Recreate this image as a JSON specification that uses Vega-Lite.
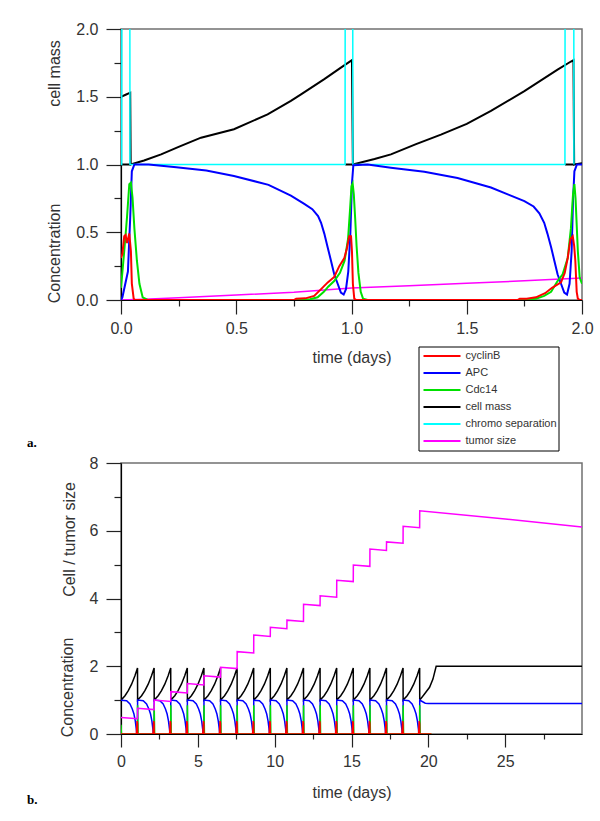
{
  "$schema": "https://vega.github.io/schema/vega-lite/v6.json",
  "background": "white",
  "padding": {"left": 26, "top": 20, "right": 5, "bottom": 5},
  "spacing": 3,
  "resolve": {"scale": {"color": "shared"}, "legend": {"color": "shared"}},
  "config": {
    "view": {"stroke": "#707070", "strokeWidth": 1.5},
    "axis": {"labelFont": "Liberation Sans", "labelFontSize": 16, "labelColor": "#333", "titleFont": "Liberation Sans", "titleFontSize": 16, "titleFontWeight": "normal", "titleColor": "#333", "domainColor": "black", "domainWidth": 1.2, "tickColor": "#222", "tickWidth": 1.2, "grid": false, "labelOverlap": false, "labelFlush": false},
    "legend": {"orient": "none", "legendX": 297.5, "legendY": 317.5, "direction": "vertical", "symbolType": "stroke", "symbolSize": 1369, "symbolStrokeWidth": 2, "clipHeight": 16.8, "rowPadding": 0, "padding": 1, "symbolOffset": 3, "labelOffset": 4, "labelFont": "Liberation Sans", "labelFontSize": 11, "labelColor": "#333", "labelLimit": 200, "strokeColor": "black", "fillColor": "white"},
    "title": {"font": "Liberation Serif", "fontSize": 13, "fontWeight": "bold", "color": "black"}
  },
  "datasets": {
    "a_tumor": [{"t":0,"v":0},{"t":0.1,"v":0.005},{"t":0.25,"v":0.017},{"t":0.5,"v":0.037},{"t":0.75,"v":0.057},{"t":1,"v":0.088},{"t":1.25,"v":0.105},{"t":1.5,"v":0.123},{"t":1.75,"v":0.142},{"t":2,"v":0.162}],
    "a_chromo": [{"t":0,"v":1},{"t":0.003,"v":1},{"t":0.004,"v":3},{"t":0.038,"v":3},{"t":0.039,"v":1},{"t":0.972,"v":1},{"t":0.973,"v":3},{"t":1.005,"v":3},{"t":1.006,"v":1},{"t":1.926,"v":1},{"t":1.927,"v":3},{"t":1.964,"v":3},{"t":1.965,"v":1}],
    "a_mass": [{"t":0,"v":1.5},{"t":0.02,"v":1.515},{"t":0.04,"v":1.53},{"t":0.042,"v":1.0},{"t":0.1,"v":1.03},{"t":0.174,"v":1.075},{"t":0.25,"v":1.13},{"t":0.347,"v":1.198},{"t":0.49,"v":1.26},{"t":0.636,"v":1.37},{"t":0.737,"v":1.469},{"t":0.781,"v":1.518},{"t":0.882,"v":1.63},{"t":0.954,"v":1.715},{"t":1.002,"v":1.77},{"t":1.006,"v":1.0},{"t":1.1,"v":1.04},{"t":1.171,"v":1.075},{"t":1.28,"v":1.15},{"t":1.388,"v":1.22},{"t":1.5,"v":1.3},{"t":1.605,"v":1.395},{"t":1.75,"v":1.542},{"t":1.894,"v":1.7},{"t":1.952,"v":1.76},{"t":1.963,"v":1.77},{"t":1.966,"v":1.0},{"t":2,"v":1.01},
      {"t":0,"v":1,"g":1},{"t":0.042,"v":1,"g":1},{"t":0.973,"v":1,"g":2},{"t":1.006,"v":1,"g":2},{"t":1.926,"v":1,"g":3},{"t":1.966,"v":1,"g":3}],
    "a_APC": [{"t":0,"v":0},{"t":0.006,"v":0.02},{"t":0.03,"v":0.21},{"t":0.04,"v":0.61},{"t":0.047,"v":0.95},{"t":0.058,"v":1.0},{"t":0.12,"v":1.0},{"t":0.24,"v":0.98},{"t":0.37,"v":0.955},{"t":0.49,"v":0.915},{"t":0.64,"v":0.85},{"t":0.737,"v":0.77},{"t":0.795,"v":0.71},{"t":0.83,"v":0.67},{"t":0.855,"v":0.62},{"t":0.868,"v":0.57},{"t":0.882,"v":0.49},{"t":0.897,"v":0.386},{"t":0.911,"v":0.29},{"t":0.925,"v":0.19},{"t":0.94,"v":0.12},{"t":0.954,"v":0.054},{"t":0.966,"v":0.04},{"t":0.976,"v":0.08},{"t":0.986,"v":0.21},{"t":0.995,"v":0.49},{"t":1.002,"v":0.86},{"t":1.008,"v":0.995},{"t":1.07,"v":1.0},{"t":1.171,"v":0.976},{"t":1.316,"v":0.947},{"t":1.46,"v":0.9},{"t":1.605,"v":0.83},{"t":1.678,"v":0.78},{"t":1.75,"v":0.73},{"t":1.79,"v":0.69},{"t":1.815,"v":0.64},{"t":1.836,"v":0.57},{"t":1.85,"v":0.49},{"t":1.866,"v":0.39},{"t":1.88,"v":0.29},{"t":1.894,"v":0.19},{"t":1.909,"v":0.12},{"t":1.923,"v":0.054},{"t":1.935,"v":0.04},{"t":1.946,"v":0.12},{"t":1.955,"v":0.36},{"t":1.961,"v":0.73},{"t":1.967,"v":0.95},{"t":1.978,"v":1.0},{"t":2,"v":1.0}],
    "a_Cdc14": [{"t":0,"v":0.09},{"t":0.014,"v":0.36},{"t":0.026,"v":0.61},{"t":0.036,"v":0.854},{"t":0.043,"v":0.866},{"t":0.05,"v":0.755},{"t":0.058,"v":0.53},{"t":0.069,"v":0.29},{"t":0.08,"v":0.12},{"t":0.094,"v":0.02},{"t":0.116,"v":0},{"t":0.78,"v":0},{"t":0.82,"v":0.005},{"t":0.853,"v":0.02},{"t":0.88,"v":0.06},{"t":0.9,"v":0.1},{"t":0.925,"v":0.14},{"t":0.95,"v":0.2},{"t":0.97,"v":0.29},{"t":0.985,"v":0.45},{"t":0.993,"v":0.65},{"t":1.0,"v":0.84},{"t":1.005,"v":0.86},{"t":1.01,"v":0.78},{"t":1.016,"v":0.6},{"t":1.022,"v":0.4},{"t":1.03,"v":0.2},{"t":1.04,"v":0.06},{"t":1.05,"v":0.01},{"t":1.07,"v":0},{"t":1.75,"v":0},{"t":1.8,"v":0.01},{"t":1.836,"v":0.03},{"t":1.866,"v":0.06},{"t":1.894,"v":0.14},{"t":1.916,"v":0.19},{"t":1.938,"v":0.31},{"t":1.952,"v":0.53},{"t":1.961,"v":0.78},{"t":1.967,"v":0.855},{"t":1.972,"v":0.75},{"t":1.982,"v":0.36},{"t":1.99,"v":0.165},{"t":2,"v":0.12}],
    "a_cyclinB": [{"t":0,"v":0.31},{"t":0.006,"v":0.34},{"t":0.014,"v":0.47},{"t":0.02,"v":0.48},{"t":0.026,"v":0.42},{"t":0.036,"v":0.49},{"t":0.043,"v":0.36},{"t":0.047,"v":0.12},{"t":0.055,"v":0.01},{"t":0.06,"v":0},{"t":0.75,"v":0},{"t":0.76,"v":0.01},{"t":0.8,"v":0.012},{"t":0.838,"v":0.03},{"t":0.868,"v":0.08},{"t":0.897,"v":0.13},{"t":0.925,"v":0.17},{"t":0.947,"v":0.25},{"t":0.969,"v":0.31},{"t":0.98,"v":0.38},{"t":0.99,"v":0.47},{"t":0.998,"v":0.47},{"t":1.002,"v":0.36},{"t":1.006,"v":0.12},{"t":1.012,"v":0.01},{"t":1.02,"v":0},{"t":1.72,"v":0},{"t":1.73,"v":0.01},{"t":1.76,"v":0.01},{"t":1.8,"v":0.02},{"t":1.84,"v":0.05},{"t":1.87,"v":0.09},{"t":1.909,"v":0.13},{"t":1.925,"v":0.2},{"t":1.938,"v":0.31},{"t":1.95,"v":0.45},{"t":1.96,"v":0.47},{"t":1.966,"v":0.4},{"t":1.971,"v":0.29},{"t":1.977,"v":0.06},{"t":1.982,"v":0.01},{"t":1.99,"v":0},{"t":2,"v":0}],
    "b_mass": [
      {"t":0,"v":1},{"t":0.26,"v":1.13},{"t":0.475,"v":1.28},{"t":0.69,"v":1.47},{"t":0.907,"v":1.72},{"t":1.075,"v":1.95},
      {"t":1.08,"v":1},{"t":1.34,"v":1.13},{"t":1.555,"v":1.28},{"t":1.77,"v":1.47},{"t":1.987,"v":1.72},{"t":2.155,"v":1.95},
      {"t":2.16,"v":1},{"t":2.42,"v":1.13},{"t":2.635,"v":1.28},{"t":2.85,"v":1.47},{"t":3.067,"v":1.72},{"t":3.235,"v":1.95},
      {"t":3.24,"v":1},{"t":3.5,"v":1.13},{"t":3.715,"v":1.28},{"t":3.93,"v":1.47},{"t":4.147,"v":1.72},{"t":4.315,"v":1.95},
      {"t":4.32,"v":1},{"t":4.58,"v":1.13},{"t":4.795,"v":1.28},{"t":5.01,"v":1.47},{"t":5.227,"v":1.72},{"t":5.395,"v":1.95},
      {"t":5.4,"v":1},{"t":5.66,"v":1.13},{"t":5.875,"v":1.28},{"t":6.09,"v":1.47},{"t":6.307,"v":1.72},{"t":6.475,"v":1.95},
      {"t":6.48,"v":1},{"t":6.74,"v":1.13},{"t":6.955,"v":1.28},{"t":7.17,"v":1.47},{"t":7.387,"v":1.72},{"t":7.555,"v":1.95},
      {"t":7.56,"v":1},{"t":7.82,"v":1.13},{"t":8.035,"v":1.28},{"t":8.25,"v":1.47},{"t":8.467,"v":1.72},{"t":8.635,"v":1.95},
      {"t":8.64,"v":1},{"t":8.9,"v":1.13},{"t":9.115,"v":1.28},{"t":9.33,"v":1.47},{"t":9.547,"v":1.72},{"t":9.715,"v":1.95},
      {"t":9.72,"v":1},{"t":9.98,"v":1.13},{"t":10.195,"v":1.28},{"t":10.41,"v":1.47},{"t":10.627,"v":1.72},{"t":10.795,"v":1.95},
      {"t":10.8,"v":1},{"t":11.06,"v":1.13},{"t":11.275,"v":1.28},{"t":11.49,"v":1.47},{"t":11.707,"v":1.72},{"t":11.875,"v":1.95},
      {"t":11.88,"v":1},{"t":12.14,"v":1.13},{"t":12.355,"v":1.28},{"t":12.57,"v":1.47},{"t":12.787,"v":1.72},{"t":12.955,"v":1.95},
      {"t":12.96,"v":1},{"t":13.22,"v":1.13},{"t":13.435,"v":1.28},{"t":13.65,"v":1.47},{"t":13.867,"v":1.72},{"t":14.035,"v":1.95},
      {"t":14.04,"v":1},{"t":14.3,"v":1.13},{"t":14.515,"v":1.28},{"t":14.73,"v":1.47},{"t":14.947,"v":1.72},{"t":15.115,"v":1.95},
      {"t":15.12,"v":1},{"t":15.38,"v":1.13},{"t":15.595,"v":1.28},{"t":15.81,"v":1.47},{"t":16.027,"v":1.72},{"t":16.195,"v":1.95},
      {"t":16.2,"v":1},{"t":16.46,"v":1.13},{"t":16.675,"v":1.28},{"t":16.89,"v":1.47},{"t":17.107,"v":1.72},{"t":17.275,"v":1.95},
      {"t":17.28,"v":1},{"t":17.54,"v":1.13},{"t":17.755,"v":1.28},{"t":17.97,"v":1.47},{"t":18.187,"v":1.72},{"t":18.355,"v":1.95},
      {"t":18.36,"v":1},{"t":18.62,"v":1.13},{"t":18.835,"v":1.28},{"t":19.05,"v":1.47},{"t":19.267,"v":1.72},{"t":19.435,"v":1.95},
      {"t":19.44,"v":1},{"t":19.75,"v":1.18},{"t":20.08,"v":1.38},{"t":20.3,"v":1.62},{"t":20.51,"v":2},{"t":30,"v":2}],
    "b_APC": [
      {"t":0,"v":1},{"t":0.367,"v":0.98},{"t":0.583,"v":0.885},{"t":0.734,"v":0.74},{"t":0.842,"v":0.59},{"t":0.929,"v":0.39},{"t":0.994,"v":0.15},{"t":1.026,"v":0.02},{"t":1.075,"v":0},
      {"t":1.08,"v":1},{"t":1.447,"v":0.98},{"t":1.663,"v":0.885},{"t":1.814,"v":0.74},{"t":1.922,"v":0.59},{"t":2.009,"v":0.39},{"t":2.074,"v":0.15},{"t":2.106,"v":0.02},{"t":2.155,"v":0},
      {"t":2.16,"v":1},{"t":2.527,"v":0.98},{"t":2.743,"v":0.885},{"t":2.894,"v":0.74},{"t":3.002,"v":0.59},{"t":3.089,"v":0.39},{"t":3.154,"v":0.15},{"t":3.186,"v":0.02},{"t":3.235,"v":0},
      {"t":3.24,"v":1},{"t":3.607,"v":0.98},{"t":3.823,"v":0.885},{"t":3.974,"v":0.74},{"t":4.082,"v":0.59},{"t":4.169,"v":0.39},{"t":4.234,"v":0.15},{"t":4.266,"v":0.02},{"t":4.315,"v":0},
      {"t":4.32,"v":1},{"t":4.687,"v":0.98},{"t":4.903,"v":0.885},{"t":5.054,"v":0.74},{"t":5.162,"v":0.59},{"t":5.249,"v":0.39},{"t":5.314,"v":0.15},{"t":5.346,"v":0.02},{"t":5.395,"v":0},
      {"t":5.4,"v":1},{"t":5.767,"v":0.98},{"t":5.983,"v":0.885},{"t":6.134,"v":0.74},{"t":6.242,"v":0.59},{"t":6.329,"v":0.39},{"t":6.394,"v":0.15},{"t":6.426,"v":0.02},{"t":6.475,"v":0},
      {"t":6.48,"v":1},{"t":6.847,"v":0.98},{"t":7.063,"v":0.885},{"t":7.214,"v":0.74},{"t":7.322,"v":0.59},{"t":7.409,"v":0.39},{"t":7.474,"v":0.15},{"t":7.506,"v":0.02},{"t":7.555,"v":0},
      {"t":7.56,"v":1},{"t":7.927,"v":0.98},{"t":8.143,"v":0.885},{"t":8.294,"v":0.74},{"t":8.402,"v":0.59},{"t":8.489,"v":0.39},{"t":8.554,"v":0.15},{"t":8.586,"v":0.02},{"t":8.635,"v":0},
      {"t":8.64,"v":1},{"t":9.007,"v":0.98},{"t":9.223,"v":0.885},{"t":9.374,"v":0.74},{"t":9.482,"v":0.59},{"t":9.569,"v":0.39},{"t":9.634,"v":0.15},{"t":9.666,"v":0.02},{"t":9.715,"v":0},
      {"t":9.72,"v":1},{"t":10.087,"v":0.98},{"t":10.303,"v":0.885},{"t":10.454,"v":0.74},{"t":10.562,"v":0.59},{"t":10.649,"v":0.39},{"t":10.714,"v":0.15},{"t":10.746,"v":0.02},{"t":10.795,"v":0},
      {"t":10.8,"v":1},{"t":11.167,"v":0.98},{"t":11.383,"v":0.885},{"t":11.534,"v":0.74},{"t":11.642,"v":0.59},{"t":11.729,"v":0.39},{"t":11.794,"v":0.15},{"t":11.826,"v":0.02},{"t":11.875,"v":0},
      {"t":11.88,"v":1},{"t":12.247,"v":0.98},{"t":12.463,"v":0.885},{"t":12.614,"v":0.74},{"t":12.722,"v":0.59},{"t":12.809,"v":0.39},{"t":12.874,"v":0.15},{"t":12.906,"v":0.02},{"t":12.955,"v":0},
      {"t":12.96,"v":1},{"t":13.327,"v":0.98},{"t":13.543,"v":0.885},{"t":13.694,"v":0.74},{"t":13.802,"v":0.59},{"t":13.889,"v":0.39},{"t":13.954,"v":0.15},{"t":13.986,"v":0.02},{"t":14.035,"v":0},
      {"t":14.04,"v":1},{"t":14.407,"v":0.98},{"t":14.623,"v":0.885},{"t":14.774,"v":0.74},{"t":14.882,"v":0.59},{"t":14.969,"v":0.39},{"t":15.034,"v":0.15},{"t":15.066,"v":0.02},{"t":15.115,"v":0},
      {"t":15.12,"v":1},{"t":15.487,"v":0.98},{"t":15.703,"v":0.885},{"t":15.854,"v":0.74},{"t":15.962,"v":0.59},{"t":16.049,"v":0.39},{"t":16.114,"v":0.15},{"t":16.146,"v":0.02},{"t":16.195,"v":0},
      {"t":16.2,"v":1},{"t":16.567,"v":0.98},{"t":16.783,"v":0.885},{"t":16.934,"v":0.74},{"t":17.042,"v":0.59},{"t":17.129,"v":0.39},{"t":17.194,"v":0.15},{"t":17.226,"v":0.02},{"t":17.275,"v":0},
      {"t":17.28,"v":1},{"t":17.647,"v":0.98},{"t":17.863,"v":0.885},{"t":18.014,"v":0.74},{"t":18.122,"v":0.59},{"t":18.209,"v":0.39},{"t":18.274,"v":0.15},{"t":18.306,"v":0.02},{"t":18.355,"v":0},
      {"t":18.36,"v":1},{"t":18.727,"v":0.98},{"t":18.943,"v":0.885},{"t":19.094,"v":0.74},{"t":19.202,"v":0.59},{"t":19.289,"v":0.39},{"t":19.354,"v":0.15},{"t":19.386,"v":0.02},{"t":19.435,"v":0},
      {"t":19.44,"v":1},{"t":19.6,"v":0.96},{"t":19.8,"v":0.91},{"t":20,"v":0.9},{"t":30,"v":0.9}],
    "b_Cdc14": [{"t":0,"v":0.27},{"t":0.03,"v":0},
      {"t":1.07,"v":0},{"t":1.08,"v":0.85},{"t":1.11,"v":0},
      {"t":2.15,"v":0},{"t":2.16,"v":0.85},{"t":2.19,"v":0},
      {"t":3.23,"v":0},{"t":3.24,"v":0.85},{"t":3.27,"v":0},
      {"t":4.31,"v":0},{"t":4.32,"v":0.85},{"t":4.35,"v":0},
      {"t":5.39,"v":0},{"t":5.4,"v":0.85},{"t":5.43,"v":0},
      {"t":6.47,"v":0},{"t":6.48,"v":0.85},{"t":6.51,"v":0},
      {"t":7.55,"v":0},{"t":7.56,"v":0.85},{"t":7.59,"v":0},
      {"t":8.63,"v":0},{"t":8.64,"v":0.85},{"t":8.67,"v":0},
      {"t":9.71,"v":0},{"t":9.72,"v":0.85},{"t":9.75,"v":0},
      {"t":10.79,"v":0},{"t":10.8,"v":0.85},{"t":10.83,"v":0},
      {"t":11.87,"v":0},{"t":11.88,"v":0.85},{"t":11.91,"v":0},
      {"t":12.95,"v":0},{"t":12.96,"v":0.85},{"t":12.99,"v":0},
      {"t":14.03,"v":0},{"t":14.04,"v":0.85},{"t":14.07,"v":0},
      {"t":15.11,"v":0},{"t":15.12,"v":0.85},{"t":15.15,"v":0},
      {"t":16.19,"v":0},{"t":16.2,"v":0.85},{"t":16.23,"v":0},
      {"t":17.27,"v":0},{"t":17.28,"v":0.85},{"t":17.31,"v":0},
      {"t":18.35,"v":0},{"t":18.36,"v":0.85},{"t":18.39,"v":0},
      {"t":19.43,"v":0},{"t":19.44,"v":0.85},{"t":19.47,"v":0},{"t":20.2,"v":0}],
    "b_cyclinB": [{"t":0,"v":0},
      {"t":1.0,"v":0},{"t":1.05,"v":0.38},{"t":1.075,"v":0.3},{"t":1.08,"v":0},
      {"t":2.08,"v":0},{"t":2.13,"v":0.38},{"t":2.155,"v":0.3},{"t":2.16,"v":0},
      {"t":3.16,"v":0},{"t":3.21,"v":0.38},{"t":3.235,"v":0.3},{"t":3.24,"v":0},
      {"t":4.24,"v":0},{"t":4.29,"v":0.38},{"t":4.315,"v":0.3},{"t":4.32,"v":0},
      {"t":5.32,"v":0},{"t":5.37,"v":0.38},{"t":5.395,"v":0.3},{"t":5.4,"v":0},
      {"t":6.4,"v":0},{"t":6.45,"v":0.38},{"t":6.475,"v":0.3},{"t":6.48,"v":0},
      {"t":7.48,"v":0},{"t":7.53,"v":0.38},{"t":7.555,"v":0.3},{"t":7.56,"v":0},
      {"t":8.56,"v":0},{"t":8.61,"v":0.38},{"t":8.635,"v":0.3},{"t":8.64,"v":0},
      {"t":9.64,"v":0},{"t":9.69,"v":0.38},{"t":9.715,"v":0.3},{"t":9.72,"v":0},
      {"t":10.72,"v":0},{"t":10.77,"v":0.38},{"t":10.795,"v":0.3},{"t":10.8,"v":0},
      {"t":11.8,"v":0},{"t":11.85,"v":0.38},{"t":11.875,"v":0.3},{"t":11.88,"v":0},
      {"t":12.88,"v":0},{"t":12.93,"v":0.38},{"t":12.955,"v":0.3},{"t":12.96,"v":0},
      {"t":13.96,"v":0},{"t":14.01,"v":0.38},{"t":14.035,"v":0.3},{"t":14.04,"v":0},
      {"t":15.04,"v":0},{"t":15.09,"v":0.38},{"t":15.115,"v":0.3},{"t":15.12,"v":0},
      {"t":16.12,"v":0},{"t":16.17,"v":0.38},{"t":16.195,"v":0.3},{"t":16.2,"v":0},
      {"t":17.2,"v":0},{"t":17.25,"v":0.38},{"t":17.275,"v":0.3},{"t":17.28,"v":0},
      {"t":18.28,"v":0},{"t":18.33,"v":0.38},{"t":18.355,"v":0.3},{"t":18.36,"v":0},
      {"t":19.36,"v":0},{"t":19.41,"v":0.38},{"t":19.435,"v":0.3},{"t":19.44,"v":0},{"t":20.2,"v":0}],
    "b_tumor": [{"t":0,"v":0.49},{"t":1.075,"v":0.45},{"t":1.08,"v":0.76},{"t":2.155,"v":0.72},{"t":2.16,"v":1.0},{"t":3.235,"v":0.96},{"t":3.24,"v":1.25},{"t":4.315,"v":1.21},{"t":4.32,"v":1.49},{"t":5.395,"v":1.45},{"t":5.4,"v":1.72},{"t":6.475,"v":1.68},{"t":6.48,"v":1.97},{"t":7.555,"v":1.93},{"t":7.56,"v":2.43},{"t":8.635,"v":2.39},{"t":8.64,"v":2.92},{"t":9.715,"v":2.88},{"t":9.72,"v":3.15},{"t":10.795,"v":3.11},{"t":10.8,"v":3.36},{"t":11.875,"v":3.32},{"t":11.88,"v":3.83},{"t":12.955,"v":3.79},{"t":12.96,"v":4.08},{"t":14.035,"v":4.04},{"t":14.04,"v":4.54},{"t":15.115,"v":4.5},{"t":15.12,"v":4.99},{"t":16.195,"v":4.95},{"t":16.2,"v":5.46},{"t":17.275,"v":5.42},{"t":17.28,"v":5.67},{"t":18.355,"v":5.63},{"t":18.36,"v":6.13},{"t":19.435,"v":6.09},{"t":19.44,"v":6.59},{"t":25,"v":6.35},{"t":30,"v":6.11}]
  },
  "vconcat": [
    {
      "width": 461, "height": 271,
      "title": {"text": "a.", "orient": "bottom", "anchor": "start", "frame": "group", "dx": -94, "offset": 72},
      "encoding": {
        "x": {"field": "t", "type": "quantitative", "scale": {"domain": [0, 2], "nice": false, "zero": false},
          "axis": {"title": "time (days)", "values": [0, 0.25, 0.5, 0.75, 1, 1.25, 1.5, 1.75, 2], "labelExpr": "datum.value % 0.5 == 0 ? format(datum.value, '.1f') : ''", "tickSize": {"condition": {"test": "datum.value % 0.5 == 0", "value": 14}, "value": 6}, "labelPadding": 6, "titlePadding": 13}}
      },
      "layer": [
        {"data": {"name": "a_mass"}, "mark": {"type": "line", "clip": true, "strokeWidth": 2},
         "encoding": {"y": {"field": "v", "type": "quantitative", "scale": {"domain": [0, 2], "nice": false}, "axis": {"title": "cell mass", "orient": "left", "ticks": false, "labels": false, "domain": false, "titleX": -67, "titleY": 44, "titleAlign": "center", "titleBaseline": "middle"}},
           "detail": {"field": "g", "type": "nominal"},
           "color": {"datum": "cell mass", "type": "nominal", "scale": {"domain": ["cyclinB", "APC", "Cdc14", "cell mass", "chromo separation", "tumor size"], "range": ["#ff0000", "#0000ff", "#00e000", "#000000", "#00ffff", "#ff00ff"]}, "legend": {"title": null}}}},
        {"data": {"name": "a_chromo"}, "mark": {"type": "line", "clip": true, "strokeWidth": 1.5},
         "encoding": {"y": {"field": "v", "type": "quantitative", "scale": {"domain": [0, 2], "nice": false}, "axis": null},
           "color": {"datum": "chromo separation", "type": "nominal", "scale": {"domain": ["cyclinB", "APC", "Cdc14", "cell mass", "chromo separation", "tumor size"], "range": ["#ff0000", "#0000ff", "#00e000", "#000000", "#00ffff", "#ff00ff"]}, "legend": {"title": null}}}},
        {"data": {"name": "a_tumor"}, "mark": {"type": "line", "clip": true, "strokeWidth": 1.5},
         "encoding": {"y": {"field": "v", "type": "quantitative", "scale": {"domain": [0, 2], "nice": false}, "axis": null},
           "color": {"datum": "tumor size", "type": "nominal", "scale": {"domain": ["cyclinB", "APC", "Cdc14", "cell mass", "chromo separation", "tumor size"], "range": ["#ff0000", "#0000ff", "#00e000", "#000000", "#00ffff", "#ff00ff"]}, "legend": {"title": null}}}},
        {"data": {"name": "a_APC"}, "mark": {"type": "line", "clip": true, "strokeWidth": 2},
         "encoding": {"y": {"field": "v", "type": "quantitative", "scale": {"domain": [0, 2], "nice": false},
             "axis": {"title": "Concentration", "orient": "left", "values": [0, 0.25, 0.5, 0.75, 1, 1.25, 1.5, 1.75, 2], "labelExpr": "datum.value % 0.5 == 0 ? format(datum.value, '.1f') : ''", "tickSize": {"condition": {"test": "datum.value % 0.5 == 0", "value": 15}, "value": 7}, "labelPadding": 8, "titleX": -67, "titleY": 224, "titleAlign": "center", "titleBaseline": "middle"}},
           "color": {"datum": "APC", "type": "nominal", "scale": {"domain": ["cyclinB", "APC", "Cdc14", "cell mass", "chromo separation", "tumor size"], "range": ["#ff0000", "#0000ff", "#00e000", "#000000", "#00ffff", "#ff00ff"]}, "legend": {"title": null}}}},
        {"data": {"name": "a_Cdc14"}, "mark": {"type": "line", "clip": true, "strokeWidth": 2},
         "encoding": {"y": {"field": "v", "type": "quantitative", "scale": {"domain": [0, 2], "nice": false}, "axis": null},
           "color": {"datum": "Cdc14", "type": "nominal", "scale": {"domain": ["cyclinB", "APC", "Cdc14", "cell mass", "chromo separation", "tumor size"], "range": ["#ff0000", "#0000ff", "#00e000", "#000000", "#00ffff", "#ff00ff"]}, "legend": {"title": null}}}},
        {"data": {"name": "a_cyclinB"}, "mark": {"type": "line", "clip": true, "strokeWidth": 2},
         "encoding": {"y": {"field": "v", "type": "quantitative", "scale": {"domain": [0, 2], "nice": false}, "axis": null},
           "color": {"datum": "cyclinB", "type": "nominal", "scale": {"domain": ["cyclinB", "APC", "Cdc14", "cell mass", "chromo separation", "tumor size"], "range": ["#ff0000", "#0000ff", "#00e000", "#000000", "#00ffff", "#ff00ff"]}, "legend": {"title": null}}}}
      ],
      "resolve": {"axis": {"y": "independent"}}
    },
    {
      "width": 461, "height": 271,
      "title": {"text": "b.", "orient": "bottom", "anchor": "start", "frame": "group", "dx": -94, "offset": -6},
      "encoding": {
        "x": {"field": "t", "type": "quantitative", "scale": {"domain": [0, 30], "nice": false, "zero": false},
          "axis": {"title": "time (days)", "values": [0, 2.5, 5, 7.5, 10, 12.5, 15, 17.5, 20, 22.5, 25, 27.5], "labelExpr": "datum.value % 5 == 0 ? format(datum.value, 'd') : ''", "tickSize": {"condition": {"test": "datum.value % 5 == 0", "value": 13}, "value": 5}, "labelPadding": 6, "titlePadding": 15}}
      },
      "layer": [
        {"data": {"name": "b_mass"}, "mark": {"type": "line", "clip": true, "strokeWidth": 1.5},
         "encoding": {"y": {"field": "v", "type": "quantitative", "scale": {"domain": [0, 8], "nice": false}, "axis": {"title": "Cell / tumor size", "orient": "left", "ticks": false, "labels": false, "domain": false, "titleX": -52, "titleY": 76, "titleAlign": "center", "titleBaseline": "middle"}},
           "color": {"datum": "cell mass", "type": "nominal", "scale": {"domain": ["cyclinB", "APC", "Cdc14", "cell mass", "chromo separation", "tumor size"], "range": ["#ff0000", "#0000ff", "#00e000", "#000000", "#00ffff", "#ff00ff"]}, "legend": {"title": null}}}},
        {"data": {"name": "b_APC"}, "mark": {"type": "line", "clip": true, "strokeWidth": 1.5},
         "encoding": {"y": {"field": "v", "type": "quantitative", "scale": {"domain": [0, 8], "nice": false},
             "axis": {"title": "Concentration", "orient": "left", "values": [0, 1, 2, 3, 4, 5, 6, 7, 8], "labelExpr": "datum.value % 2 == 0 ? format(datum.value, 'd') : ''", "tickSize": {"condition": {"test": "datum.value % 2 == 0", "value": 15}, "value": 7}, "labelPadding": 8, "titleX": -54, "titleY": 224, "titleAlign": "center", "titleBaseline": "middle"}},
           "color": {"datum": "APC", "type": "nominal", "scale": {"domain": ["cyclinB", "APC", "Cdc14", "cell mass", "chromo separation", "tumor size"], "range": ["#ff0000", "#0000ff", "#00e000", "#000000", "#00ffff", "#ff00ff"]}, "legend": {"title": null}}}},
        {"data": {"name": "b_Cdc14"}, "mark": {"type": "line", "clip": true, "strokeWidth": 1.5},
         "encoding": {"y": {"field": "v", "type": "quantitative", "scale": {"domain": [0, 8], "nice": false}, "axis": null},
           "color": {"datum": "Cdc14", "type": "nominal", "scale": {"domain": ["cyclinB", "APC", "Cdc14", "cell mass", "chromo separation", "tumor size"], "range": ["#ff0000", "#0000ff", "#00e000", "#000000", "#00ffff", "#ff00ff"]}, "legend": {"title": null}}}},
        {"data": {"name": "b_cyclinB"}, "mark": {"type": "line", "clip": true, "strokeWidth": 1.5},
         "encoding": {"y": {"field": "v", "type": "quantitative", "scale": {"domain": [0, 8], "nice": false}, "axis": null},
           "color": {"datum": "cyclinB", "type": "nominal", "scale": {"domain": ["cyclinB", "APC", "Cdc14", "cell mass", "chromo separation", "tumor size"], "range": ["#ff0000", "#0000ff", "#00e000", "#000000", "#00ffff", "#ff00ff"]}, "legend": {"title": null}}}},
        {"data": {"name": "b_tumor"}, "mark": {"type": "line", "clip": true, "strokeWidth": 1.5},
         "encoding": {"y": {"field": "v", "type": "quantitative", "scale": {"domain": [0, 8], "nice": false}, "axis": null},
           "color": {"datum": "tumor size", "type": "nominal", "scale": {"domain": ["cyclinB", "APC", "Cdc14", "cell mass", "chromo separation", "tumor size"], "range": ["#ff0000", "#0000ff", "#00e000", "#000000", "#00ffff", "#ff00ff"]}, "legend": {"title": null}}}}
      ],
      "resolve": {"axis": {"y": "independent"}}
    }
  ]
}
